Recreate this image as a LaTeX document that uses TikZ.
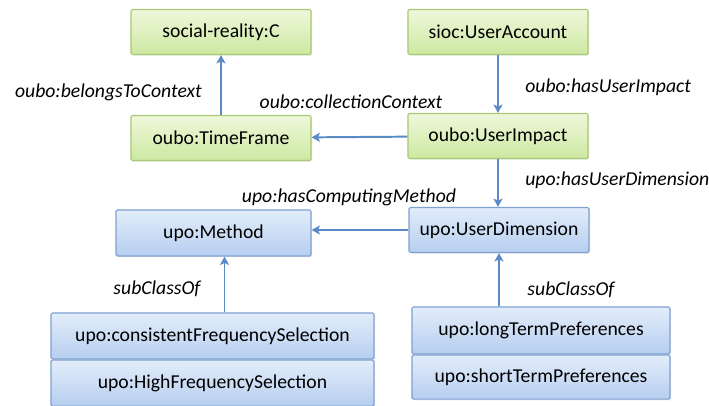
\documentclass[tikz,border=0pt]{standalone}
\usepackage{fontspec}
\setmainfont{Carlito}
\usetikzlibrary{positioning,shadows,arrows.meta}

\definecolor{gtop}{HTML}{EEF8DA}
\definecolor{gbot}{HTML}{CDE8A2}
\definecolor{gline}{HTML}{A9C872}
\definecolor{btop}{HTML}{E3EDFA}
\definecolor{bbot}{HTML}{B6CEF0}
\definecolor{bline}{HTML}{7FA1D0}
\definecolor{linkc}{HTML}{5B8BC6}

\tikzstyle{cls}=[rectangle, draw, rounded corners=1pt, line width=0.8pt, inner sep=0pt,
  minimum height=1.125cm, font=\fontsize{14}{16}\selectfont,
  drop shadow={opacity=0.18, shadow xshift=0.8pt, shadow yshift=-0.8pt}]
\tikzstyle{gcls}=[cls, draw=gline, top color=gtop, bottom color=gbot, minimum width=4.5cm]
\tikzstyle{bcls}=[cls, draw=bline, top color=btop, bottom color=bbot]
\tikzstyle{link}=[draw=linkc, line width=1.4pt, -{Stealth[length=6pt,width=6.5pt,inset=1.5pt]}]
\tikzstyle{prop}=[font=\fontsize{14}{16}\selectfont\itshape, inner sep=0pt]
\newcommand{\gcls}{\node[gcls]}
\newcommand{\bcls}{\node[bcls]}

\begin{document}
\begin{tikzpicture}[x=0.025cm, y=-0.025cm]
\useasboundingbox (0,0) rectangle (709,406);
% context part (oubo)
\gcls (src) at (221,32) {social-reality:C};
\gcls (tf) at (221,138) {oubo:TimeFrame};
\gcls (ua) at (498,32) {sioc:UserAccount};
\gcls (ui) at (498,136) {oubo:UserImpact};
% profile part (upo)
\bcls (ud) at (499,230)[minimum width=4.5cm] {upo:UserDimension};
\bcls (meth) at (213.5,233)[minimum width=4.875cm, minimum height=1.15cm] {upo:Method};
\bcls (cfs) at (212.5,336)[minimum width=8.075cm, minimum height=1.15cm] {upo:consistentFrequencySelection};
\bcls (hfs) [below=0pt of cfs, minimum width=8.075cm, minimum height=1.15cm] {upo:HighFrequencySelection};
\bcls (ltp) at (541,330.5)[minimum width=6.45cm, minimum height=1.175cm] {upo:longTermPreferences};
\bcls (stp) [below=0pt of ltp, minimum width=6.45cm, minimum height=1.1cm] {upo:shortTermPreferences};

\draw[link] (tf) -- (src);
\draw[link] (ua) -- (ui);
\draw[link] (ui) -- (tf);
\draw[link] (ui.south) -- (ui.south |- ud.north);
\draw[link] (ud.west) -- (meth.east |- ud.west);
\draw[link] ([xshift=0.275cm]meth.south |- cfs.north) -- ([xshift=0.275cm]meth.south);
\draw[link] (ltp.north -| ud.south) -- (ud.south);

\node[prop, anchor=east] (btc) at (202,92) {oubo:belongsToContext};
\node[prop] (cc) at (351,102) {oubo:collectionContext};
\node[prop, anchor=west] (hui) at (525,87) {oubo:hasUserImpact};
\node[prop, anchor=west] (hud) at (525,180) {upo:hasUserDimension};
\node[prop] (hcm) at (349,197) {upo:hasComputingMethod};
\node[prop] (sc1) at (157,289) {subClassOf};
\node[prop] (sc2) at (571,290) {subClassOf};
\end{tikzpicture}
\end{document}
